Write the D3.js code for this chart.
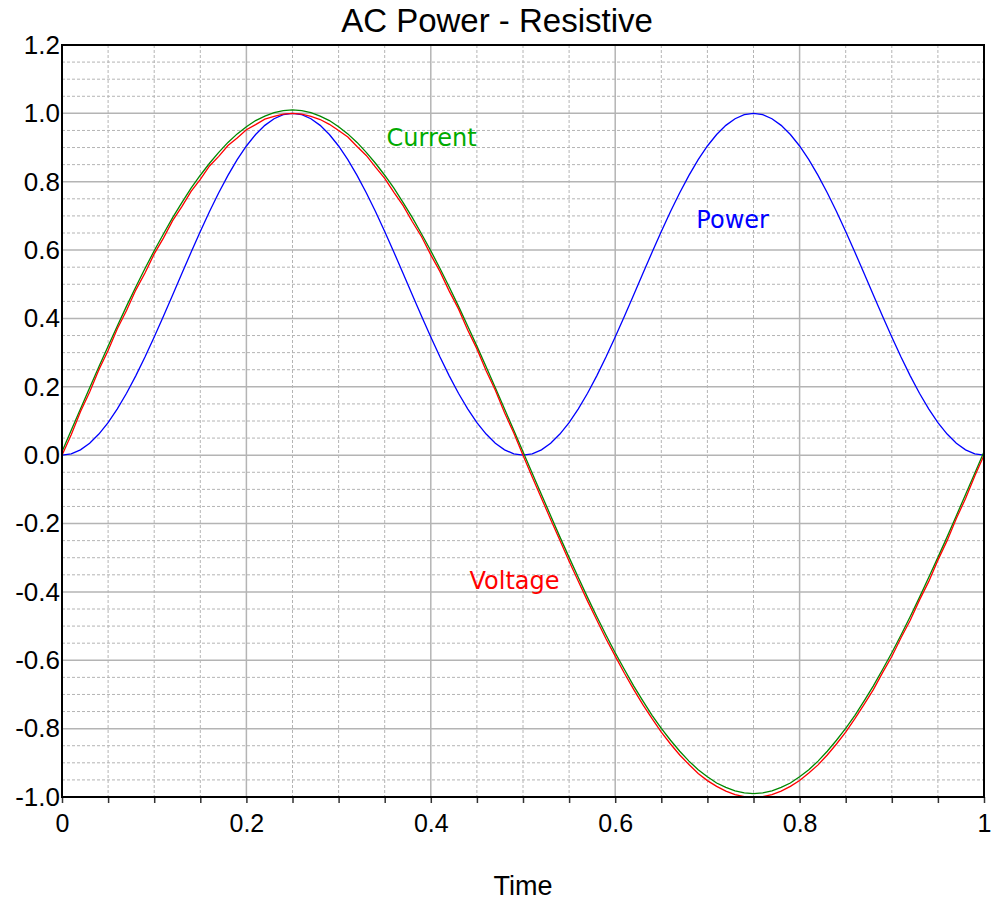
<!DOCTYPE html>
<html>
<head>
<meta charset="utf-8">
<script src="https://cdn.jsdelivr.net/npm/d3@7"></script>
<style>
  html, body { margin: 0; padding: 0; background: #fff; }
  svg { display: block; }
</style>
</head>
<body>
<div id="chart"></div>
<script>
// ---------- DATA ----------
const chartTitle = "AC Power - Resistive";
const xLabel = "Time";

// time samples (step 0.01)
const time = [
  0.00,0.01,0.02,0.03,0.04,0.05,0.06,0.07,0.08,0.09,
  0.10,0.11,0.12,0.13,0.14,0.15,0.16,0.17,0.18,0.19,
  0.20,0.21,0.22,0.23,0.24,0.25,0.26,0.27,0.28,0.29,
  0.30,0.31,0.32,0.33,0.34,0.35,0.36,0.37,0.38,0.39,
  0.40,0.41,0.42,0.43,0.44,0.45,0.46,0.47,0.48,0.49,
  0.50,0.51,0.52,0.53,0.54,0.55,0.56,0.57,0.58,0.59,
  0.60,0.61,0.62,0.63,0.64,0.65,0.66,0.67,0.68,0.69,
  0.70,0.71,0.72,0.73,0.74,0.75,0.76,0.77,0.78,0.79,
  0.80,0.81,0.82,0.83,0.84,0.85,0.86,0.87,0.88,0.89,
  0.90,0.91,0.92,0.93,0.94,0.95,0.96,0.97,0.98,0.99,1.00
];

const voltage = [
  0.000,0.060,0.127,0.185,0.250,0.306,0.370,0.423,0.483,0.533,
  0.589,0.635,0.686,0.727,0.772,0.807,0.846,0.874,0.906,0.928,
  0.952,0.967,0.983,0.991,0.998,1.000,0.998,0.991,0.982,0.968,
  0.950,0.931,0.903,0.877,0.843,0.810,0.769,0.730,0.683,0.639,
  0.586,0.537,0.480,0.428,0.366,0.311,0.247,0.190,0.124,0.065,
  0.000,-0.064,-0.126,-0.188,-0.249,-0.310,-0.369,-0.427,-0.482,-0.537,
  -0.588,-0.638,-0.685,-0.730,-0.771,-0.810,-0.845,-0.877,-0.905,-0.931,
  -0.952,-0.969,-0.983,-0.993,-0.999,-1.000,-0.999,-0.993,-0.983,-0.969,
  -0.952,-0.930,-0.906,-0.877,-0.845,-0.810,-0.771,-0.729,-0.686,-0.636,
  -0.589,-0.534,-0.483,-0.424,-0.370,-0.307,-0.250,-0.185,-0.127,-0.061,0.000
];

const current = [
  0.010,0.073,0.135,0.197,0.259,0.319,0.378,0.436,0.492,0.546,
  0.598,0.647,0.695,0.739,0.781,0.819,0.854,0.886,0.915,0.940,
  0.961,0.979,0.992,1.002,1.008,1.010,1.008,1.002,0.992,0.979,
  0.961,0.940,0.915,0.886,0.854,0.819,0.781,0.739,0.695,0.647,
  0.598,0.546,0.492,0.436,0.378,0.319,0.259,0.197,0.135,0.073,
  0.010,-0.053,-0.115,-0.177,-0.239,-0.299,-0.358,-0.416,-0.472,-0.526,
  -0.578,-0.627,-0.675,-0.719,-0.761,-0.799,-0.834,-0.866,-0.895,-0.920,
  -0.941,-0.959,-0.972,-0.982,-0.988,-0.990,-0.988,-0.982,-0.972,-0.959,
  -0.941,-0.920,-0.895,-0.866,-0.834,-0.799,-0.761,-0.719,-0.675,-0.627,
  -0.578,-0.526,-0.472,-0.416,-0.358,-0.299,-0.239,-0.177,-0.115,-0.053,0.010
];

const power = [
  0.0000,0.0039,0.0157,0.0351,0.0618,0.0955,0.1355,0.1813,0.2321,0.2871,
  0.3455,0.4063,0.4686,0.5314,0.5937,0.6545,0.7129,0.7679,0.8187,0.8645,
  0.9045,0.9382,0.9649,0.9843,0.9961,1.0000,0.9961,0.9843,0.9649,0.9382,
  0.9045,0.8645,0.8187,0.7679,0.7129,0.6545,0.5937,0.5314,0.4686,0.4063,
  0.3455,0.2871,0.2321,0.1813,0.1355,0.0955,0.0618,0.0351,0.0157,0.0039,
  0.0000,0.0039,0.0157,0.0351,0.0618,0.0955,0.1355,0.1813,0.2321,0.2871,
  0.3455,0.4063,0.4686,0.5314,0.5937,0.6545,0.7129,0.7679,0.8187,0.8645,
  0.9045,0.9382,0.9649,0.9843,0.9961,1.0000,0.9961,0.9843,0.9649,0.9382,
  0.9045,0.8645,0.8187,0.7679,0.7129,0.6545,0.5937,0.5314,0.4686,0.4063,
  0.3455,0.2871,0.2321,0.1813,0.1355,0.0955,0.0618,0.0351,0.0157,0.0039,0.0000
];

const xTickValues = [0, 0.2, 0.4, 0.6, 0.8, 1];
const xTickLabels = ["0", "0.2", "0.4", "0.6", "0.8", "1"];
const yTickValues = [1.2, 1.0, 0.8, 0.6, 0.4, 0.2, 0.0, -0.2, -0.4, -0.6, -0.8, -1.0];
const yTickLabels = ["1.2", "1.0", "0.8", "0.6", "0.4", "0.2", "0.0", "-0.2", "-0.4", "-0.6", "-0.8", "-1.0"];

const seriesLabels = [
  { name: "Current", t: 0.352, v: 0.905, color: "#00aa00" },
  { name: "Power",   t: 0.688, v: 0.665, color: "#0000ff" },
  { name: "Voltage", t: 0.442, v: -0.392, color: "#ff0000" }
];

// ---------- LAYOUT ----------
const W = 994, H = 901;
const margin = { left: 62, right: 10, top: 45, bottom: 104 };
const iw = W - margin.left - margin.right;
const ih = H - margin.top - margin.bottom;

const svg = d3.select("#chart").append("svg").attr("width", W).attr("height", H);
const g = svg.append("g").attr("transform", `translate(${margin.left},${margin.top})`);

const x = d3.scaleLinear().domain([0, 1]).range([0, iw]);
const y = d3.scaleLinear().domain([-1.0, 1.2]).range([ih, 0]);

const gridColor = "#b4b4b4";

// minor grid (dashed)
const xMinor = d3.range(0, 21).map(i => i * 0.05).filter((v, i) => i % 4 !== 0);
const yMinor = d3.range(0, 45).map(i => -1.0 + i * 0.05).filter((v, i) => i % 4 !== 0);

g.append("g").selectAll("line").data(xMinor).join("line")
  .attr("x1", d => x(d)).attr("x2", d => x(d)).attr("y1", 0).attr("y2", ih)
  .attr("stroke", gridColor).attr("stroke-width", 1).attr("stroke-dasharray", "3,2");
g.append("g").selectAll("line").data(yMinor).join("line")
  .attr("x1", 0).attr("x2", iw).attr("y1", d => y(d)).attr("y2", d => y(d))
  .attr("stroke", gridColor).attr("stroke-width", 1).attr("stroke-dasharray", "3,2");

// major grid (solid)
g.append("g").selectAll("line").data(xTickValues).join("line")
  .attr("x1", d => x(d)).attr("x2", d => x(d)).attr("y1", 0).attr("y2", ih)
  .attr("stroke", gridColor).attr("stroke-width", 1.5);
g.append("g").selectAll("line").data(yTickValues).join("line")
  .attr("x1", 0).attr("x2", iw).attr("y1", d => y(d)).attr("y2", d => y(d))
  .attr("stroke", gridColor).attr("stroke-width", 1.5);

// x axis ticks (every 0.05, below plot)
const xAxis = d3.axisBottom(x)
  .tickValues(d3.range(0, 21).map(i => i * 0.05))
  .tickSize(6)
  .tickFormat(d => {
    const idx = xTickValues.findIndex(v => Math.abs(v - d) < 1e-9);
    return idx >= 0 ? xTickLabels[idx] : "";
  });
const xg = g.append("g").attr("transform", `translate(0,${ih})`).call(xAxis);
xg.select(".domain").remove();
xg.selectAll(".tick line").attr("stroke", "#333").attr("stroke-width", 1.5);
xg.selectAll(".tick text")
  .attr("font-family", "Liberation Sans, Arial, sans-serif")
  .attr("font-size", 25).attr("fill", "#000").attr("dy", "1.05em");

// y axis
const yAxis = d3.axisLeft(y)
  .tickValues(yTickValues)
  .tickSize(0)
  .tickPadding(2)
  .tickFormat((d, i) => yTickLabels[i]);
const yg = g.append("g").call(yAxis);
yg.select(".domain").remove();
yg.selectAll(".tick text")
  .attr("font-family", "Liberation Sans, Arial, sans-serif")
  .attr("font-size", 26).attr("fill", "#000");

// series lines
const line = d3.line().x((d, i) => x(time[i])).y(d => y(d));
g.append("path").attr("d", line(power))
  .attr("fill", "none").attr("stroke", "#0000ff").attr("stroke-width", 1.3);
g.append("path").attr("d", line(current))
  .attr("fill", "none").attr("stroke", "#008800").attr("stroke-width", 1.3);
g.append("path").attr("d", line(voltage))
  .attr("fill", "none").attr("stroke", "#ff0000").attr("stroke-width", 1.3);

// frame
g.append("rect").attr("x", 0).attr("y", 0).attr("width", iw).attr("height", ih)
  .attr("fill", "none").attr("stroke", "#000").attr("stroke-width", 2);

// series labels
g.append("g").selectAll("text").data(seriesLabels).join("text")
  .attr("x", d => x(d.t)).attr("y", d => y(d.v))
  .attr("font-family", "DejaVu Sans, sans-serif").attr("font-size", 24)
  .attr("fill", d => d.color).text(d => d.name);

// title
svg.append("text").attr("x", W / 2).attr("y", 32)
  .attr("text-anchor", "middle")
  .attr("font-family", "Liberation Sans, Arial, sans-serif").attr("font-size", 33)
  .attr("fill", "#000").text(chartTitle);

// x label
svg.append("text").attr("x", margin.left + iw / 2).attr("y", 895)
  .attr("text-anchor", "middle")
  .attr("font-family", "Liberation Sans, Arial, sans-serif").attr("font-size", 27)
  .attr("fill", "#000").text(xLabel);
</script>
</body>
</html>
